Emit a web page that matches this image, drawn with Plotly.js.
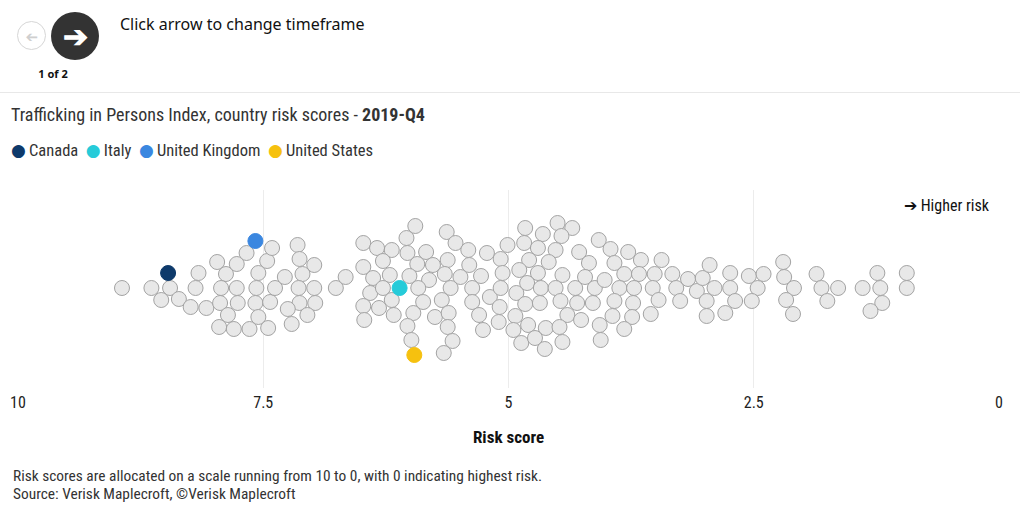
<!DOCTYPE html>
<html>
<head>
<meta charset="utf-8">
<script src="https://cdn.plot.ly/plotly-3.0.1.min.js"></script>
<style>
	body { margin: 0; background: #fff; }
	#wrap { position: relative; width: 1020px; height: 514px; overflow: hidden; }
	#graph { position: absolute; left: 0; top: 0; width: 1020px; height: 514px; }
	#hdr { position: absolute; left: 0; top: 0; width: 1020px; height: 92px; border-bottom: 1px solid #e8e8e8; z-index: 5; font-family: 'Source Sans Pro', 'Noto Sans', sans-serif; }
	.btn { position: absolute; border-radius: 50%; text-align: center; }
	#prev { left: 17px; top: 21px; width: 29px; height: 29px; border: 1px solid #d6d6d6; color: #cfcfcf; font-size: 15px; line-height: 28px; box-sizing: border-box; }
	#prev span { display: inline-block; transform: scaleX(-1); }
	#next { left: 51px; top: 12px; width: 48px; height: 48px; background: #333; color: #fff; font-size: 30px; font-weight: bold; line-height: 48px; }
	#page { position: absolute; left: 37px; top: 66px; width: 32px; text-align: center; font-size: 11px; font-weight: bold; color: #111; }
	#hint { position: absolute; left: 120px; top: 13px; font-size: 16px; color: #111; }
</style>
</head>
<body>
<div id="wrap">
	<div id="graph"></div>
	<div id="hdr">
		<div id="prev" class="btn"><span>&#x2794;</span></div>
		<div id="next" class="btn">&#x2794;</div>
		<div id="page">1 of 2</div>
		<div id="hint">Click arrow to change timeframe</div>
	</div>
</div>
<script>
	//risk scores (10 = lowest risk, 0 = highest) for all countries not highlighted
	var scores = [8.94,8.64,8.45,8.54,8.36,8.24,8.16,8.19,8.08,7.97,7.88,7.93,7.94,7.86,7.95,7.77,7.67,7.77,7.76,7.80,7.64,
		7.46,7.41,7.55,7.57,7.58,7.55,7.45,7.43,7.38,7.28,7.15,7.13,6.98,7.10,7.14,6.98,7.13,6.97,7.25,7.05,7.21,6.76,6.66,
		6.48,6.34,6.19,6.04,5.95,6.48,6.28,6.03,5.84,5.93,5.77,6.38,6.21,6.01,5.81,6.41,6.28,5.92,6.48,6.32,6.19,6.17,5.97,
		5.87,5.75,6.47,6.03,5.99,
		5.63,5.54,5.41,5.62,5.40,5.65,5.49,5.28,5.59,5.37,5.68,5.37,5.61,5.62,5.57,5.66,5.30,5.26,5.22,5.01,5.08,5.06,5.19,
		5.08,5.09,5.10,4.83,4.84,4.65,4.50,4.35,4.46,4.70,4.52,4.79,4.59,4.89,4.70,4.45,4.92,4.81,4.67,4.52,4.32,4.83,4.68,
		4.47,4.93,4.80,4.62,4.40,4.95,4.87,4.73,4.63,4.48,4.45,4.28,4.18,4.22,4.30,4.12,4.14,4.26,4.08,4.02,4.07,4.06,
		3.96,3.78,3.65,3.44,3.92,3.82,3.67,3.51,3.33,3.87,3.72,3.53,3.29,3.17,3.08,3.02,2.95,2.90,2.74,2.74,2.55,2.40,2.46,
		2.52,2.69,2.79,2.98,2.98,3.25,3.47,3.55,3.73,3.92,3.74,3.94,3.82,
		2.20,2.19,2.09,2.17,2.10,1.86,1.81,1.64,1.75,1.39,1.24,1.21,1.19,1.31,0.94,0.94]
	//swarm offsets, same order as scores
	var offsets = [0,0,0,-12,-11,-19,15,0,-20,26,14,0,-15,-27,-39,24,35,0,-15,-41,-41,
		27,40,15,0,-15,-29,-40,-14,0,11,43,29,23,14,0,0,-15,-15,-21,-27,-36,0,11,
		45,40,38,50,62,21,27,35,36,24,23,10,13,12,8,-5,0,0,-18,-20,-12,-27,-25,
		-14,-29,-32,-38,-52,
		56,45,38,28,23,14,11,12,0,0,-12,-14,-25,-39,-53,-65,-27,-42,35,43,29,15,-9,
		0,-19,-34,60,45,54,65,60,52,40,38,28,26,18,15,13,-5,5,0,0,0,-16,-15,
		-13,-28,-37,-40,-27,-42,-55,-50,-61,-39,-54,36,25,11,-15,0,-15,-32,48,8,-37,-52,
		39,36,28,28,25,14,14,14,14,0,0,0,0,9,-3,10,23,0,15,0,12,14,0,
		-13,-13,-25,-13,-28,-13,-12,-26,-15,-13,-29,-28,-41,
		26,11,0,-12,-26,14,0,0,-13,0,15,0,-15,-23,15,0]

	var countries = ['Canada','Italy','United Kingdom','United States']
	var countryScores = [8.47,6.11,7.58,5.96]
	var countryOffsets = [15,0,47,-67]
	var countryColors = ['#0e3a6b','#26cbd9','#3b87e0','#f6c10f']

	var tickVals = [10,7.5,5,2.5,0]
	var tickText = ['10','7.5','5','2.5','0']

	var condensed = "'Roboto Condensed', 'Liberation Sans Narrow', 'Arial Narrow', Roboto, sans-serif"

	//plot area in pixels, used to place the texts around it
	var plotL = 18, plotR = 999, plotT = 190, plotB = 388
	function px(x) { return (x - plotL) / (plotR - plotL) }
	function py(y) { return (plotB - y) / (plotB - plotT) }

	var traces = []
	traces.push({
		x: scores,
		y: offsets,
		type: 'scatter',
		mode: 'markers',
		hoverinfo: 'x',
		showlegend: false,
		marker: {
			size: 15,
			color: '#e8e8e8',
			line: { color: '#a3a3a3', width: 1 }
		}
	})
	for (var i = 0; i < countries.length; i++) {
		traces.push({
			x: [countryScores[i]],
			y: [countryOffsets[i]],
			name: countries[i],
			type: 'scatter',
			mode: 'markers',
			showlegend: false,
			marker: {
				size: 15,
				color: countryColors[i],
				line: { color: countryColors[i], width: 1 }
			}
		})
	}

	//legend written as one line of text, dots coloured like the markers
	var legendText = []
	for (var i = 0; i < countries.length; i++) {
		legendText.push("<span style='color:" + countryColors[i] + ";font-family:DejaVu Sans;font-size:17px'>\u25CF</span>\u2009" + countries[i])
	}

	var layout = {
		width: 1020,
		height: 514,
		margin: { l: plotL, r: 1020 - plotR, t: plotT, b: 514 - plotB },
		paper_bgcolor: '#fff',
		plot_bgcolor: '#fff',
		font: { family: condensed, color: '#333' },
		title: {
			text: 'Trafficking in Persons Index, country risk scores - <b>2019-Q4</b>',
			xref: 'container',
			yref: 'container',
			x: 11 / 1020,
			xanchor: 'left',
			y: 1 - 115 / 514,
			yanchor: 'middle',
			font: { family: condensed, size: 18, color: '#333' }
		},
		xaxis: {
			range: [10, 0],
			tickvals: tickVals,
			ticktext: tickText,
			showgrid: true,
			gridcolor: '#ececec',
			gridwidth: 1,
			zeroline: false,
			showline: false,
			ticks: '',
			ticklabelstandoff: 3,
			tickfont: { family: condensed, size: 16, color: '#222' },
			title: {
				text: '<b>Risk score</b>',
				font: { family: condensed, size: 17, color: '#111' },
				standoff: 20
			}
		},
		yaxis: {
			range: [-100, 98],
			visible: false,
			showgrid: false,
			zeroline: false,
			fixedrange: true
		},
		annotations: [
			{
				xref: 'paper', yref: 'paper',
				x: px(9), y: py(150),
				xanchor: 'left', yanchor: 'middle',
				showarrow: false,
				text: legendText.join('  '),
				font: { family: condensed, size: 16.5, color: '#333' }
			},
			{
				xref: 'paper', yref: 'paper',
				x: px(992), y: py(205),
				xanchor: 'right', yanchor: 'middle',
				showarrow: false,
				text: '\u2794 Higher risk',
				font: { family: condensed, size: 16, color: '#111' }
			},
			{
				xref: 'paper', yref: 'paper',
				x: px(11), y: py(476),
				xanchor: 'left', yanchor: 'middle',
				showarrow: false,
				text: 'Risk scores are allocated on a scale running from 10 to 0, with 0 indicating highest risk.',
				font: { family: condensed, size: 15.4, color: '#333' }
			},
			{
				xref: 'paper', yref: 'paper',
				x: px(11), y: py(494),
				xanchor: 'left', yanchor: 'middle',
				showarrow: false,
				text: 'Source: Verisk Maplecroft, \u00A9Verisk Maplecroft',
				font: { family: condensed, size: 15.4, color: '#333' }
			}
		]
	}

	Plotly.newPlot('graph', traces, layout, { displayModeBar: false, staticPlot: true })
</script>
</body>
</html>
